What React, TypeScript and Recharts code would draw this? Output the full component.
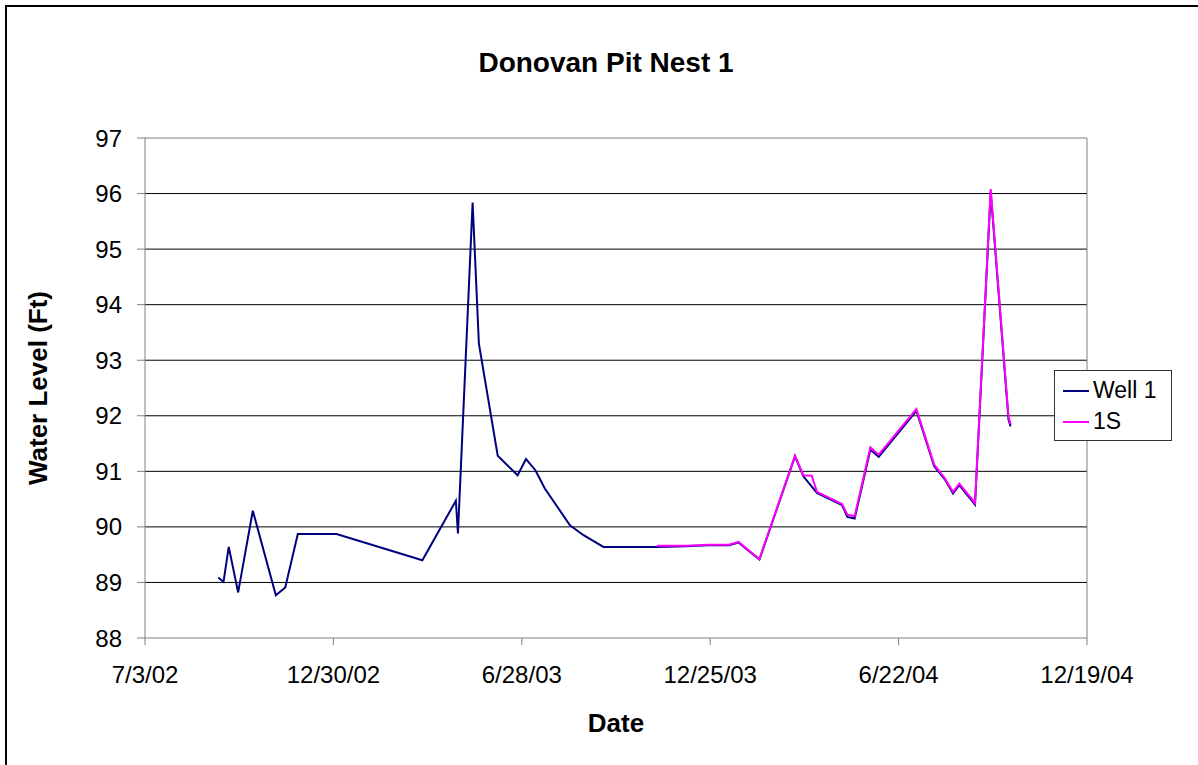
import React from "react";
import {
  LineChart,
  Line,
  XAxis,
  YAxis,
  CartesianGrid,
  ReferenceLine,
  Label,
} from "recharts";

// Well 1 readings (date, water level in ft)
const well1Dates = [
  "9/11/02", "9/16/02", "9/21/02", "9/30/02", "10/14/02", "11/5/02", "11/14/02", "11/26/02",
  "1/2/03", "3/25/03", "4/26/03", "4/28/03", "5/12/03", "5/18/03", "6/5/03", "6/24/03",
  "7/2/03", "7/11/03", "7/20/03", "8/13/03", "8/26/03", "9/14/03", "11/4/03", "12/2/03",
  "12/23/03", "1/12/04", "1/21/04", "2/10/04", "3/15/04", "3/23/04", "4/5/04", "4/29/04",
  "5/4/04", "5/11/04", "5/26/04", "6/3/04", "7/9/04", "7/26/04", "8/5/04", "8/13/04",
  "8/19/04", "9/3/04", "9/18/04", "10/5/04", "10/7/04",
];
const well1Levels = [
  89.09, 89.01, 89.64, 88.82, 90.29, 88.77, 88.91, 89.87,
  89.87, 89.4, 90.47, 89.88, 95.84, 93.3, 91.28, 90.93,
  91.22, 91.02, 90.69, 90.03, 89.85, 89.64, 89.64, 89.65,
  89.67, 89.67, 89.72, 89.41, 91.27, 90.91, 90.61, 90.39,
  90.18, 90.15, 91.39, 91.26, 92.09, 91.09, 90.86, 90.6,
  90.75, 90.4, 96.03, 91.93, 91.81,
];

// 1S readings
const s1Dates = [
  "11/4/03", "12/2/03", "12/23/03", "1/12/04", "1/21/04", "2/10/04", "3/15/04", "3/23/04",
  "3/31/04", "4/5/04", "4/29/04", "5/4/04", "5/11/04", "5/26/04", "6/3/04", "7/9/04",
  "7/26/04", "8/5/04", "8/13/04", "8/19/04", "9/3/04", "9/18/04", "10/5/04", "10/7/04",
];
const s1Levels = [
  89.66, 89.66, 89.68, 89.68, 89.73, 89.42, 91.28, 90.93,
  90.92, 90.63, 90.41, 90.22, 90.19, 91.43, 91.3, 92.12,
  91.12, 90.88, 90.63, 90.78, 90.43, 96.08, 91.98, 91.85,
];

const xTickDates = ["7/3/02", "12/30/02", "6/28/03", "12/25/03", "6/22/04", "12/19/04"];
const yTicks = [88, 89, 90, 91, 92, 93, 94, 95, 96, 97];

const parseDate = (s: string) => {
  const [m, d, y] = s.split("/").map(Number);
  return Date.UTC(2000 + y, m - 1, d);
};

const fmtDate = (t: number) => {
  const d = new Date(t);
  return `${d.getUTCMonth() + 1}/${d.getUTCDate()}/${String(d.getUTCFullYear() % 100).padStart(2, "0")}`;
};

const well1Data = well1Dates.map((d, i) => ({ t: parseDate(d), v: well1Levels[i] }));
const s1Data = s1Dates.map((d, i) => ({ t: parseDate(d), v: s1Levels[i] }));
const xTicks = xTickDates.map(parseDate);

const FONT = '"Liberation Sans", Arial, sans-serif';

const legendItems = [
  { name: "Well 1", color: "#000080" },
  { name: "1S", color: "#FF00FF" },
];

export default function App() {
  return (
    <div
      style={{
        position: "absolute",
        left: 0,
        top: 0,
        width: 1198,
        height: 765,
        overflow: "hidden",
        background: "#fff",
        fontFamily: FONT,
      }}
    >
      {/* chart frame, only top/left edges show */}
      <div
        style={{
          position: "absolute",
          left: 5,
          top: 5,
          width: 1240,
          height: 800,
          border: "2px solid #000",
        }}
      />
      <div
        style={{
          position: "absolute",
          left: 0,
          top: 49,
          width: 1212,
          textAlign: "center",
          fontSize: 28,
          fontWeight: "bold",
          lineHeight: "28px",
        }}
      >
        Donovan Pit Nest 1
      </div>
      <div style={{ position: "absolute", left: 0, top: 0 }}>
        <LineChart width={1198} height={765} margin={{ top: 138, right: 111, bottom: 0, left: 0 }}>
          <CartesianGrid vertical={false} stroke="#000" horizontalValues={[89, 90, 91, 92, 93, 94, 95, 96]} />
          <XAxis
            dataKey="t"
            type="number"
            domain={[xTicks[0], xTicks[xTicks.length - 1]]}
            ticks={xTicks}
            tickFormatter={fmtDate}
            height={127}
            stroke="#808080"
            tickSize={7}
            tickMargin={21}
            tick={{ fill: "#000", fontSize: 24 }}
            allowDataOverflow
          >
            <Label
              value="Date"
              position="insideBottom"
              offset={33}
              style={{ fontSize: 26, fontWeight: "bold", fill: "#000" }}
            />
          </XAxis>
          <YAxis
            dataKey="v"
            type="number"
            domain={[88, 97]}
            ticks={yTicks}
            width={145}
            stroke="#808080"
            tickSize={8}
            tickMargin={15}
            tick={{ fill: "#000", fontSize: 24 }}
            allowDataOverflow
          >
            <Label
              value="Water Level (Ft)"
              angle={-90}
              position="insideLeft"
              offset={38}
              style={{ fontSize: 26, fontWeight: "bold", fill: "#000", textAnchor: "middle" }}
            />
          </YAxis>
          <ReferenceLine y={97} stroke="#808080" />
          <ReferenceLine x={xTicks[xTicks.length - 1]} stroke="#808080" />
          <Line
            data={well1Data}
            dataKey="v"
            name="Well 1"
            stroke="#000080"
            strokeWidth={2}
            dot={false}
            isAnimationActive={false}
          />
          <Line
            data={s1Data}
            dataKey="v"
            name="1S"
            stroke="#FF00FF"
            strokeWidth={2}
            dot={false}
            isAnimationActive={false}
          />
        </LineChart>
      </div>
      {/* legend */}
      <div
        style={{
          position: "absolute",
          left: 1054,
          top: 370,
          width: 118,
          height: 71,
          border: "1px solid #333",
          background: "#fff",
          fontSize: 23,
          color: "#000",
          boxSizing: "border-box",
          paddingTop: 4,
        }}
      >
        {legendItems.map((e) => (
          <div key={e.name} style={{ display: "flex", alignItems: "center", height: 31 }}>
            <div style={{ width: 26, height: 2, background: e.color, marginLeft: 8, marginRight: 4 }} />
            <span>{e.name}</span>
          </div>
        ))}
      </div>
    </div>
  );
}
